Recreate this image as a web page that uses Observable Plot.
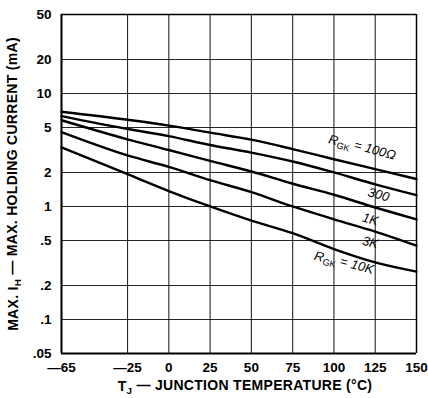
<!DOCTYPE html>
<html><head><meta charset="utf-8">
<script src="https://cdn.jsdelivr.net/npm/d3@7"></script>
<script src="https://cdn.jsdelivr.net/npm/@observablehq/plot@0.6"></script>
<style>
body{margin:0;background:#fff}
#chart svg{font-family:"Liberation Sans",Arial,Helvetica,sans-serif;background:#fff}
</style>
</head><body><div id="chart"></div>
<script>
// Data
const temps = [-65, -25, 0, 25, 50, 75, 100, 125, 150];
const r100 = [6.9, 5.85, 5.2, 4.5, 3.9, 3.22, 2.62, 2.14, 1.75];
const r300 = [6.3, 4.85, 4.2, 3.5, 3.0, 2.5, 2.0, 1.57, 1.26];
const r1k  = [5.8, 3.93, 3.16, 2.53, 2.04, 1.59, 1.27, 0.98, 0.77];
const r3k  = [4.55, 2.83, 2.24, 1.71, 1.34, 1.0, 0.77, 0.60, 0.45];
const r10k = [3.34, 1.93, 1.37, 1.0, 0.75, 0.58, 0.42, 0.32, 0.265];
const seriesNames = ["100", "300", "1K", "3K", "10K"];

const xTicks = [-65, -25, 0, 25, 50, 75, 100, 125, 150];
const xTickLabels = ["—65", "—25", "0", "25", "50", "75", "100", "125", "150"];
const yTicks = [0.05, 0.1, 0.2, 0.5, 1, 2, 5, 10, 20, 50];
const yTickLabels = [".05", ".1", ".2", ".5", "1", "2", "5", "10", "20", "50"];

const curveLabels = ["R_GK = 100Ω", "300", "1K", "3K", "R_GK = 10K"];
const curveLabelT = [117, 127, 122, 122, 106];
const curveLabelV = [3.3, 1.27, 0.77, 0.48, 0.315];

const xTitle = "T_J — JUNCTION TEMPERATURE (°C)";
const yTitle = "MAX. I_H — MAX. HOLDING CURRENT (mA)";

const series = [r100, r300, r1k, r3k, r10k];
const rows = seriesNames.flatMap((s, k) => temps.map((t, i) => ({t, v: series[k][i], s})));
const labelRows = curveLabels.map((text, i) => ({text, t: curveLabelT[i], v: curveLabelV[i]}));
const yTickRows = yTicks.map((v, i) => ({v, label: yTickLabels[i]}));

const plot = Plot.plot({
  width: 428,
  height: 398,
  marginLeft: 61,
  marginRight: 12,
  marginTop: 14,
  marginBottom: 45,
  x: {domain: [-65, 150]},
  y: {type: "log", domain: [0.05, 50], axis: null},
  style: {background: "#fff", color: "#000"},
  marks: [
    Plot.gridX(xTicks, {stroke: "#000", strokeOpacity: 0.85, strokeWidth: 1.1}),
    Plot.gridY(yTicks, {stroke: "#000", strokeOpacity: 0.85, strokeWidth: 1.1}),
    Plot.ruleX([-65], {stroke: "#000", strokeWidth: 2}),
    Plot.ruleY([0.05], {stroke: "#000", strokeWidth: 2}),
    Plot.ruleX([150], {stroke: "#000", strokeWidth: 1.4}),
    Plot.ruleY([50], {stroke: "#000", strokeWidth: 1.4}),
    Plot.axisX({ticks: xTicks, tickFormat: d => xTickLabels[xTicks.indexOf(d)], tickSize: 0, tickPadding: 9, fontSize: 13.5, fontWeight: "bold", label: null}),
    Plot.text(yTickRows, {frameAnchor: "left", y: "v", text: "label", textAnchor: "end", dx: -10, fontSize: 13.5, fontWeight: "bold", fill: "#000"}),
    Plot.line(rows, {x: "t", y: "v", z: "s", stroke: "#000", strokeWidth: 2.4, curve: "monotone-x"}),
    Plot.text(labelRows, {x: "t", y: "v", text: "text", rotate: 15, fontSize: 13, fontStyle: "italic", fill: "#000"}),
    Plot.text([xTitle], {frameAnchor: "bottom", dy: 33, dx: 6, lineAnchor: "middle", textAnchor: "middle", fontSize: 14, fontWeight: "bold", fill: "#000"}),
    Plot.text([yTitle], {frameAnchor: "left", dx: -48, rotate: -90, textAnchor: "middle", lineAnchor: "middle", fontSize: 14, fontWeight: "bold", fill: "#000"})
  ]
});

// subscripts: "A_BC rest" -> A, subscript BC, rest
d3.select(plot).selectAll("text").each(function() {
  const el = d3.select(this);
  if (el.selectAll("tspan").size() > 0) return;
  const s = el.text();
  const m = s.match(/^(.*?)_([A-Z]+)(.*)$/);
  if (!m) return;
  if (s.length > 20) el.attr("letter-spacing", "0.3px");
  el.text(null);
  el.append("tspan").text(m[1]);
  el.append("tspan").attr("dy", "0.3em").attr("font-size", "70%").attr("font-style", "normal").text(m[2]);
  el.append("tspan").attr("dy", "-0.3em").text(m[3]);
});

document.getElementById("chart").append(plot);
</script>
</body></html>
